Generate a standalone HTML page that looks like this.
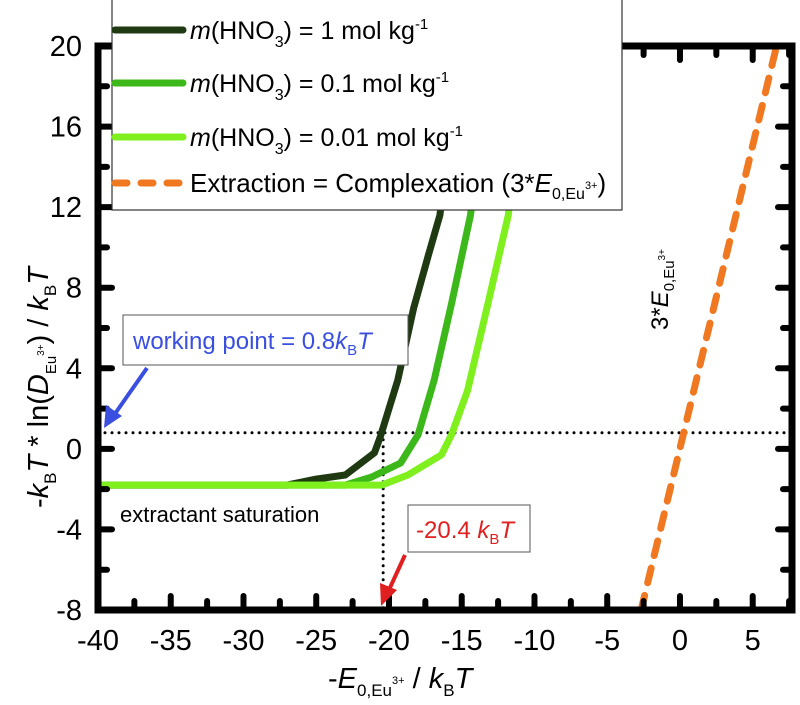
<!DOCTYPE html>
<html><head><meta charset="utf-8"><style>
body{margin:0;background:#fff;}
svg{display:block;font-family:"Liberation Sans",Arial,sans-serif;}
</style></head><body>
<svg id="chart" width="800" height="705" viewBox="0 0 800 705" xmlns="http://www.w3.org/2000/svg">
<g id="marks"></g>
<g id="axes"></g>
<g id="legend">
 <rect x="112" y="-2" width="510" height="212" fill="#fff" stroke="#333" stroke-width="1.2"/>
 <line x1="115" y1="30" x2="183" y2="30" stroke="#1f3a12" stroke-width="7" stroke-linecap="round"/>
 <line x1="115" y1="83" x2="183" y2="83" stroke="#3cb81a" stroke-width="7" stroke-linecap="round"/>
 <line x1="115" y1="137" x2="183" y2="137" stroke="#7ff01e" stroke-width="7" stroke-linecap="round"/>
 <line x1="115" y1="183" x2="183" y2="183" stroke="#f07820" stroke-width="7" stroke-linecap="round" stroke-dasharray="12 14"/>
 <text x="190" y="39" font-size="25"><tspan font-style="italic">m</tspan>(HNO<tspan font-size="16" dy="8">3</tspan><tspan dy="-8">) = 1 mol kg</tspan><tspan font-size="15" dy="-10">-1</tspan></text>
 <text x="190" y="92" font-size="25"><tspan font-style="italic">m</tspan>(HNO<tspan font-size="16" dy="8">3</tspan><tspan dy="-8">) = 0.1 mol kg</tspan><tspan font-size="15" dy="-10">-1</tspan></text>
 <text x="190" y="146" font-size="25"><tspan font-style="italic">m</tspan>(HNO<tspan font-size="16" dy="8">3</tspan><tspan dy="-8">) = 0.01 mol kg</tspan><tspan font-size="15" dy="-10">-1</tspan></text>
 <text x="190" y="192" font-size="26">Extraction = Complexation (3*<tspan font-style="italic">E</tspan><tspan font-size="16" dy="7">0,Eu</tspan><tspan font-size="11" dy="-10">3+</tspan><tspan dy="3">)</tspan></text>
</g>
<g>
 <rect x="123" y="315" width="285" height="50" fill="#fff" stroke="#555" stroke-width="1"/>
 <text x="133" y="349" font-size="24" fill="#3a4fe0">working point = 0.8<tspan font-style="italic">k</tspan><tspan font-size="15" dy="6">B</tspan><tspan font-style="italic" dy="-6">T</tspan></text>
 <line x1="147" y1="368" x2="112" y2="418" stroke="#3a4fe0" stroke-width="4"/>
 <polygon points="104,428 106,405 122,416" fill="#3a4fe0"/>
</g>
<text x="120" y="522" font-size="22">extractant saturation</text>
<g>
 <rect x="408" y="505" width="122" height="47" fill="#fff" stroke="#555" stroke-width="1"/>
 <text x="416" y="538" font-size="24" fill="#e02020">-20.4 <tspan font-style="italic">k</tspan><tspan font-size="15" dy="6">B</tspan><tspan font-style="italic" dy="-6">T</tspan></text>
 <line x1="405" y1="555" x2="388" y2="592" stroke="#e02020" stroke-width="4"/>
 <polygon points="381,606 380,583 397,590" fill="#e02020"/>
</g>
<text transform="translate(668,330) rotate(-90)" font-size="24"><tspan>3*</tspan><tspan font-style="italic">E</tspan><tspan font-size="15" dy="6">0,Eu</tspan><tspan font-size="10" dy="-9">3+</tspan></text>
<text x="328" y="688" font-size="29">-<tspan font-style="italic">E</tspan><tspan font-size="17" dy="8">0,Eu</tspan><tspan font-size="11" dy="-12">3+</tspan><tspan dy="4"> / </tspan><tspan font-style="italic">k</tspan><tspan font-size="17" dy="8">B</tspan><tspan font-style="italic" dy="-8">T</tspan></text>
<text transform="translate(48,508) rotate(-90)" font-size="29">-<tspan font-style="italic">k</tspan><tspan font-size="17" dy="8">B</tspan><tspan font-style="italic" dy="-8">T</tspan> * ln(<tspan font-style="italic">D</tspan><tspan font-size="15" dy="8">Eu</tspan><tspan font-size="10" dy="-12">3+</tspan><tspan dy="4">)  / </tspan><tspan font-style="italic">k</tspan><tspan font-size="17" dy="8">B</tspan><tspan font-style="italic" dy="-8">T</tspan></text>
</svg>
<script>
const xTicks=[-40,-35,-30,-25,-20,-15,-10,-5,0,5];
const yTicks=[-8,-4,0,4,8,12,16,20];
const x1M=[-40,-27,-25,-23,-21,-20.6,-19.4,-18.3,-17.3,-16.5,-15];
const y1M=[-1.8,-1.8,-1.5,-1.3,-0.2,0.6,3.4,7.0,9.6,11.6,20];
const x01M=[-40,-23,-21.2,-19.2,-18,-16.9,-15.7,-14.4,-13];
const y01M=[-1.8,-1.8,-1.4,-0.7,0.7,3.4,7.2,11.6,20];
const x001M=[-40,-20.5,-18.7,-16.4,-15.7,-14.6,-13.2,-11.8,-10.6];
const y001M=[-1.8,-1.8,-1.3,-0.3,0.7,2.9,7.2,11.6,20];
const xCompl=[-2.67,6.64];
const yCompl=[-8,20];
const workingPoint=0.8, minEnergy=-20.4;
const L=98,R=792,T=46,B=610,XMIN=-40,XMAX=7.7,YMIN=-8,YMAX=20;
const sx=v=>L+(v-XMIN)/(XMAX-XMIN)*(R-L);
const sy=v=>B-(v-YMIN)/(YMAX-YMIN)*(B-T);
const NS="http://www.w3.org/2000/svg";
const marks=document.getElementById('marks'), axes=document.getElementById('axes');
function mk(tag,attrs,parent){const e=document.createElementNS(NS,tag);for(const k in attrs)e.setAttribute(k,attrs[k]);parent.appendChild(e);return e;}
const clip=mk('clipPath',{id:'pc'},marks);mk('rect',{x:L-4,y:T,width:R-L+4,height:B-T},clip);
let e;
e=mk('line',{x1:L,x2:R,y1:sy(workingPoint),y2:sy(workingPoint),stroke:'#000','stroke-width':3,'stroke-dasharray':'0 7','stroke-linecap':'round'},marks);


e=mk('line',{x1:sx(minEnergy),x2:sx(minEnergy),y1:sy(workingPoint),y2:B,stroke:'#000','stroke-width':3,'stroke-dasharray':'0 7','stroke-linecap':'round'},marks);


const series=[[x1M,y1M,'#1f3a12','series-1m'],[x01M,y01M,'#3cb81a','series-0.1m'],[x001M,y001M,'#7ff01e','series-0.01m']];
series.forEach(s=>{
 const d=s[0].map((x,i)=>(i?'L':'M')+(i?sx(x):sx(x)-3).toFixed(1)+','+sy(s[1][i]).toFixed(1)).join('');
 e=mk('path',{d:d,fill:'none',stroke:s[2],'stroke-width':7,'stroke-linejoin':'round','clip-path':'url(#pc)'},marks);
 
 
});
e=mk('line',{x1:sx(xCompl[0]),y1:sy(yCompl[0]),x2:sx(xCompl[1]),y2:sy(yCompl[1]),stroke:'#f07820','stroke-width':7,'stroke-dasharray':'15 13','stroke-linecap':'round'},marks);


e=mk('rect',{x:L,y:T,width:R-L,height:B-T,fill:'none',stroke:'#000','stroke-width':7},axes);


for(let v=-40;v<=7.5;v+=2.5){const maj=xTicks.includes(v);const px=sx(v);
 mk('line',{x1:px,x2:px,y1:B,y2:B-(maj?14:9),stroke:'#000','stroke-width':6,'stroke-linecap':'round'},axes);
 mk('line',{x1:px,x2:px,y1:T,y2:T+(maj?14:9),stroke:'#000','stroke-width':6,'stroke-linecap':'round'},axes);}
for(let v=-8;v<=20;v+=2){const maj=yTicks.includes(v);const py=sy(v);
 mk('line',{x1:L,x2:L+(maj?14:9),y1:py,y2:py,stroke:'#000','stroke-width':6,'stroke-linecap':'round'},axes);
 mk('line',{x1:R,x2:R-(maj?14:9),y1:py,y2:py,stroke:'#000','stroke-width':6,'stroke-linecap':'round'},axes);}
xTicks.forEach(v=>{e=mk('text',{x:sx(v),y:650,'font-size':29,'text-anchor':'middle'},axes);e.textContent=v;
 
 });
yTicks.forEach(v=>{e=mk('text',{x:82,y:sy(v)+10,'font-size':29,'text-anchor':'end'},axes);e.textContent=v;
 
 });
</script>
</body></html>
